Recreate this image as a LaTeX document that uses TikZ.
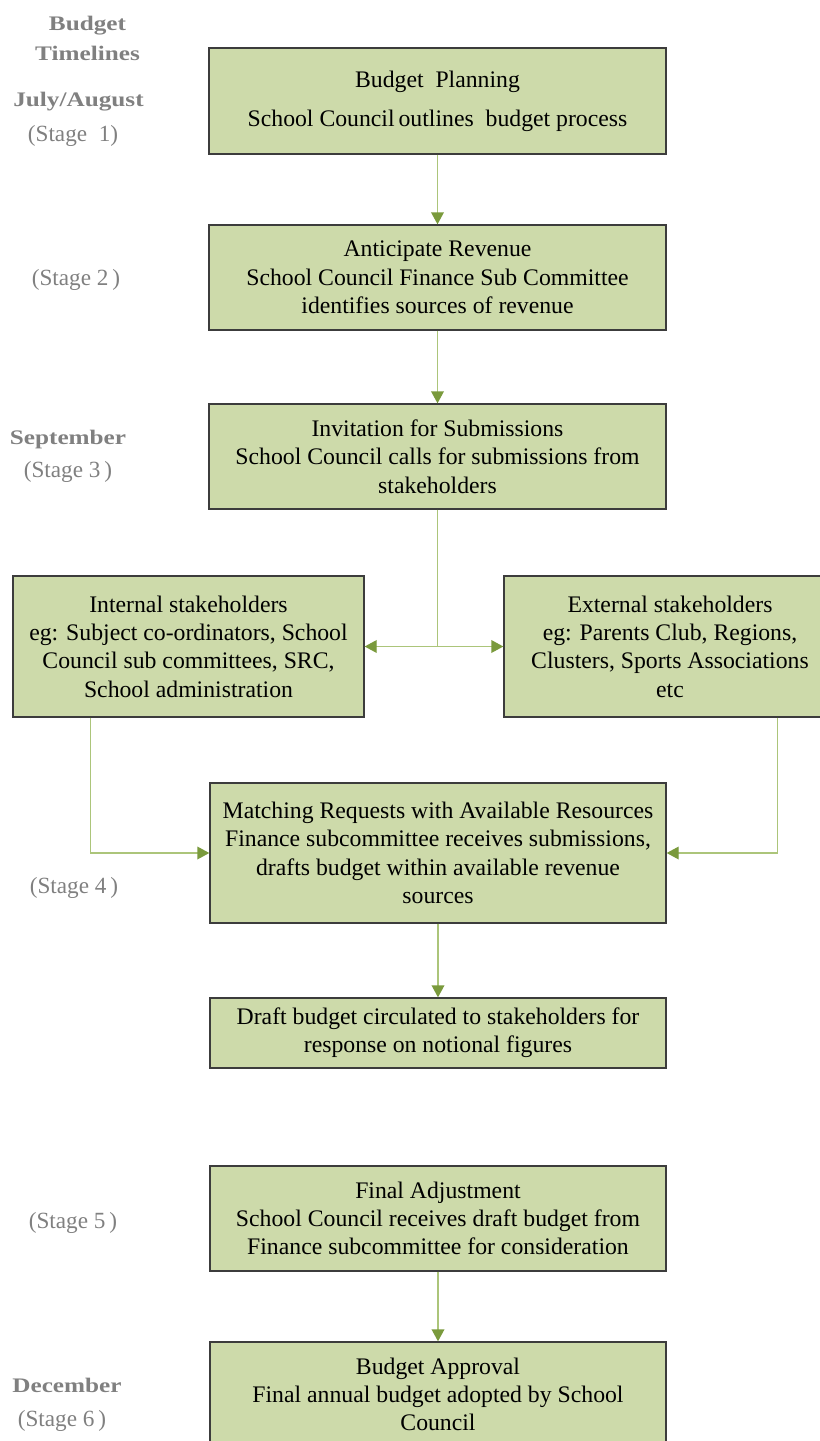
\documentclass[tikz,border=0pt]{standalone}
\usepackage{fontspec}
\setmainfont{Liberation Serif}
\usepackage{graphicx}
\usetikzlibrary{arrows.meta}
\definecolor{boxfill}{RGB}{205,218,170}
\definecolor{boxline}{RGB}{60,60,60}
\definecolor{conn}{RGB}{172,197,122}
\definecolor{head}{RGB}{122,154,60}
\definecolor{lbl}{RGB}{128,128,128}
\newcommand\widelbl[1]{\scalebox{1.22}[1]{#1}}
\tikzset{
  stepbox/.style={draw=boxline, line width=1pt, fill=boxfill, inner sep=0pt, align=center,
    font=\fontsize{17.8pt}{21.2pt}\selectfont, text=black},
  link/.style={draw=conn, line width=1pt},
  arr/.style={link, -{Triangle[length=9pt,width=9.5pt,color=head]}},
  month/.style={text=lbl, font=\bfseries\fontsize{15.5pt}{18pt}\selectfont, anchor=base, inner sep=0pt},
  stage/.style={text=lbl, font=\fontsize{17.4pt}{20pt}\selectfont, anchor=base, inner sep=0pt},
}
\begin{document}
\begin{tikzpicture}[x=0.75pt,y=-0.75pt]
\useasboundingbox (0,0) rectangle (819,1441);
% boxes
\node[stepbox, minimum width=342.75pt, minimum height=79.5pt] (b1) at (437.5,101)
  {Budget\ \ Planning\\[7.8pt]School Council\,outlines\ \ budget process};
\node[stepbox, minimum width=342.75pt, minimum height=78.75pt] (b2) at (437.5,277.5)
  {Anticipate Revenue\\School Council Finance Sub Committee\\identifies sources of revenue};
\node[stepbox, minimum width=342.75pt, minimum height=78.75pt] (b3) at (437.5,456.5)
  {Invitation for Submissions\\School Council calls for submissions from\\stakeholders};
\node[stepbox, minimum width=263.25pt, minimum height=105.75pt] (int) at (188.5,646.5)
  {Internal stakeholders\\eg: Subject co-ordinators, School\\Council sub committees, SRC,\\School administration};
\node[stepbox, minimum width=249pt, minimum height=105.75pt] (ext) at (670,646.5)
  {External stakeholders\\eg: Parents Club, Regions,\\Clusters, Sports Associations\\etc};
\node[stepbox, minimum width=342pt, minimum height=105pt] (b4) at (438,853)
  {Matching Requests with Available Resources\\Finance subcommittee receives submissions,\\drafts budget within available revenue\\sources};
\node[stepbox, minimum width=342pt, minimum height=52.5pt] (b5) at (438,1033)
  {Draft budget circulated to stakeholders for\\response on notional figures};
\node[stepbox, minimum width=342pt, minimum height=78.75pt] (b6) at (438,1218.5)
  {Final Adjustment\\School Council receives draft budget from\\Finance subcommittee for consideration};
\node[stepbox, minimum width=342pt, minimum height=78.75pt] (b7) at (438,1394.5)
  {Budget Approval\\Final annual budget adopted by School\\Council};
% connectors
\draw[arr] (b1.south) -- (b2.north);
\draw[arr] (b2.south) -- (b3.north);
\coordinate (split) at (b3.south |- int.east);
\draw[link] (b3.south) -- (split);
\draw[arr] (split) -- (int.east);
\draw[arr] (split) -- (ext.west);
\draw[arr] ([xshift=58.5pt]int.south west) |- (b4.west);
\draw[arr] ([xshift=205.5pt]ext.south west) |- (b4.east);
\draw[arr] (b4.south) -- (b5.north);
\draw[arr] (b6.south) -- (b7.north);
% timeline labels
\node[month] (tl1) at (87.5,31) {\widelbl{Budget}};
\node[month] (tl2) at (87.5,61) {\widelbl{Timelines}};
\node[month] (jul) at (78.5,107) {\widelbl{July/August}};
\node[stage] (s1) at (73,142) {(Stage\ \ 1)};
\node[stage] (s2) at (76,285) {(Stage\ 2\,)};
\node[month] (sep) at (68,444) {\widelbl{September}};
\node[stage] (s3) at (68,477) {(Stage\ 3\,)};
\node[stage] (s4) at (74,893) {(Stage\ 4\,)};
\node[stage] (s5) at (73,1228) {(Stage\ 5\,)};
\node[month] (dec) at (67,1392) {\widelbl{December}};
\node[stage] (s6) at (62,1426) {(Stage\ 6\,)};
\end{tikzpicture}
\end{document}
